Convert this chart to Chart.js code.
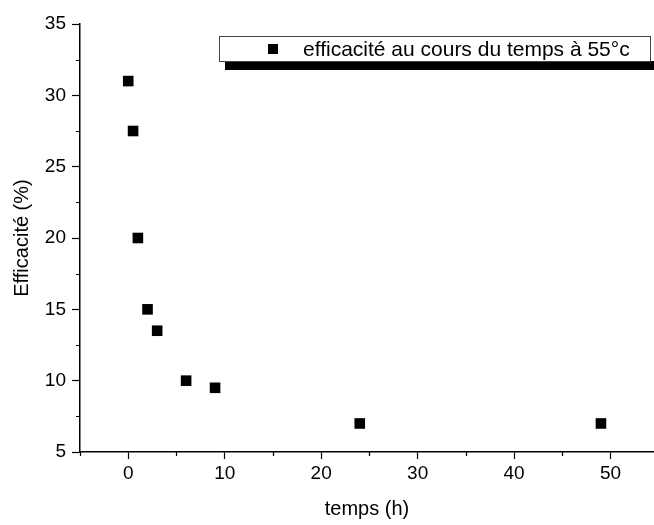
<!DOCTYPE html>
<html>
<head>
<meta charset="utf-8">
<script src="https://cdn.jsdelivr.net/npm/chart.js@4"></script>
<style>
    html, body { margin: 0; padding: 0; background: #fff; overflow: hidden; }
    #wrap { width: 654px; height: 525px; }
</style>
</head>
<body>
<div id="wrap"><canvas id="effChart" width="654" height="525"></canvas></div>
<script>
// donnees
const temps = [0, 0.5, 1, 2, 3, 6, 9, 24, 49];
const efficacite = [31, 27.5, 20, 15, 13.5, 10, 9.5, 7, 7];
const serieLabel = 'efficacité au cours du temps à 55°c';
const xTitle = 'temps (h)';
const yTitle = 'Efficacité (%)';

const FONT = 'Arial, "Liberation Sans", sans-serif';

// petites graduations (a mi-pas)
const minorTicks = {
    id: 'minorTicks',
    afterDraw(chart) {
        const ctx = chart.ctx;
        const x = chart.scales.x, y = chart.scales.y;
        ctx.save();
        ctx.strokeStyle = '#000';
        ctx.lineWidth = 1.2;
        ctx.beginPath();
        for (let v = -5; v <= x.max; v += 10) {
            const px = Math.round(x.getPixelForValue(v)) + 0.5;
            ctx.moveTo(px, y.bottom);
            ctx.lineTo(px, y.bottom + 4);
        }
        for (let v = 7.5; v <= 35; v += 5) {
            const py = Math.round(y.getPixelForValue(v)) + 0.5;
            ctx.moveTo(x.left, py);
            ctx.lineTo(x.left - 4, py);
        }
        ctx.stroke();
        ctx.restore();
    }
};

// legende encadree avec ombre
const boxLegend = {
    id: 'boxLegend',
    afterDraw(chart) {
        const ctx = chart.ctx;
        ctx.save();
        ctx.fillStyle = '#000';
        ctx.fillRect(225, 61, 440, 9);
        ctx.fillStyle = '#fff';
        ctx.fillRect(219.5, 36.5, 431, 25);
        ctx.strokeStyle = '#444';
        ctx.lineWidth = 1;
        ctx.strokeRect(219.5, 36.5, 431, 25);
        ctx.fillStyle = '#000';
        ctx.fillRect(268, 44, 10, 10);
        ctx.font = '21px ' + FONT;
        ctx.textBaseline = 'alphabetic';
        ctx.fillText(chart.data.datasets[0].label, 303, 56);
        ctx.restore();
    }
};

new Chart(document.getElementById('effChart'), {
    type: 'scatter',
    data: {
        datasets: [{
            label: serieLabel,
            data: temps.map((t, i) => ({ x: t, y: efficacite[i] })),
            pointStyle: 'rect',
            pointRadius: 7.5,
            pointHoverRadius: 7.5,
            backgroundColor: '#000',
            borderColor: '#000',
            borderWidth: 0
        }]
    },
    options: {
        responsive: false,
        animation: false,
        layout: {
            autoPadding: false,
            padding: { top: 24, right: 0, left: 0, bottom: 0 }
        },
        plugins: {
            legend: { display: false },
            tooltip: { enabled: false }
        },
        scales: {
            x: {
                type: 'linear',
                min: -5,
                max: 54.5,
                afterFit: function (scale) {
                    scale.height = 73;
                    scale.paddingRight = 0;
                    scale.paddingLeft = 0;
                },
                ticks: {
                    stepSize: 10,
                    includeBounds: false,
                    color: '#000',
                    font: { family: FONT, size: 19 },
                    padding: 3,
                    maxRotation: 0
                },
                grid: {
                    drawOnChartArea: false,
                    color: '#000',
                    tickLength: 7,
                    tickWidth: 1.2
                },
                border: { color: '#000', width: 1.5 },
                title: {
                    display: true,
                    text: xTitle,
                    color: '#000',
                    font: { family: FONT, size: 20 },
                    padding: { top: 8 }
                }
            },
            y: {
                min: 5,
                max: 35,
                afterFit: function (scale) {
                    scale.width = 80;
                    scale.paddingTop = 0;
                    scale.paddingBottom = 0;
                },
                ticks: {
                    stepSize: 5,
                    color: '#000',
                    font: { family: FONT, size: 19 },
                    padding: 6
                },
                grid: {
                    drawOnChartArea: false,
                    color: '#000',
                    tickLength: 8,
                    tickWidth: 1.2
                },
                border: { color: '#000', width: 1.5 },
                title: {
                    display: true,
                    text: yTitle,
                    color: '#000',
                    font: { family: FONT, size: 20 },
                    padding: { top: 10, bottom: 0 }
                }
            }
        }
    },
    plugins: [minorTicks, boxLegend]
});
</script>
</body>
</html>
